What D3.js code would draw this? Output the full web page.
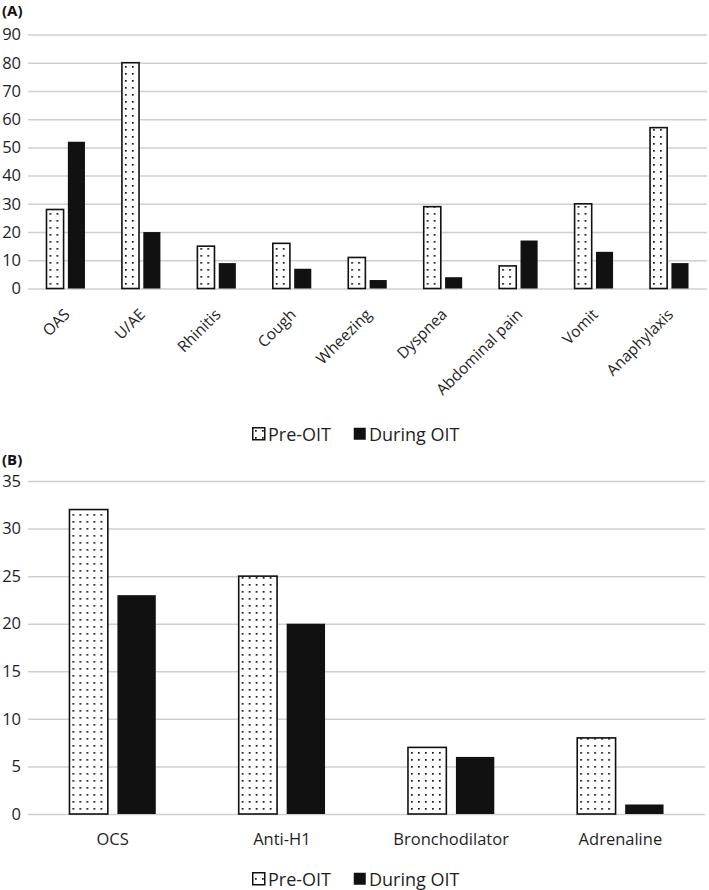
<!DOCTYPE html>
<html>
<head>
<meta charset="utf-8">
<script src="https://cdnjs.cloudflare.com/ajax/libs/d3/7.8.5/d3.min.js"></script>
<style>
  body { margin: 0; background: #fff; }
  svg { display: block; font-family: "Open Sans", sans-serif; }
</style>
</head>
<body>
<div id="container"></div>
<script>
// panel A: symptoms
var catsA = ['OAS', 'U/AE', 'Rhinitis', 'Cough', 'Wheezing', 'Dyspnea', 'Abdominal pain', 'Vomit', 'Anaphylaxis'];
var preA = [28, 80, 15, 16, 11, 29, 8, 30, 57];
var durA = [52, 20, 9, 7, 3, 4, 17, 13, 9];
var ticksA = [0, 10, 20, 30, 40, 50, 60, 70, 80, 90];

// panel B: treatments
var catsB = ['OCS', 'Anti-H1', 'Bronchodilator', 'Adrenaline'];
var preB = [32, 25, 7, 8];
var durB = [23, 20, 6, 1];
var ticksB = [0, 5, 10, 15, 20, 25, 30, 35];

var series = ['Pre-OIT', 'During OIT'];

var W = 709, H = 890;
var textColor = '#1e1e1e', gridColor = '#cfcfcf';

var svg = d3.select('#container').append('svg')
    .attr('width', W).attr('height', H);

svg.append('rect').attr('width', W).attr('height', H).attr('fill', '#fff');

var defs = svg.append('defs');
var pat = defs.append('pattern')
    .attr('id', 'dots')
    .attr('patternUnits', 'userSpaceOnUse')
    .attr('width', 7).attr('height', 7);
pat.append('rect').attr('width', 7).attr('height', 7).attr('fill', '#fff');
pat.append('rect').attr('x', 3).attr('y', 3).attr('width', 1.7).attr('height', 1.7).attr('fill', '#111');

function drawPanel(cats, pre, dur, ticks, box, rotate){
    var x = d3.scaleBand().domain(cats).range([box.left, box.right]).padding(0);
    var y = d3.scaleLinear().domain([0, ticks[ticks.length-1]]).range([box.bottom, box.top]);
    var groupW = x.bandwidth()*0.51;
    var x1 = d3.scaleBand().domain(series).range([0, groupW]).paddingInner(0.2);

    var g = svg.append('g');

    // grid + y labels
    var yAxis = g.append('g')
        .attr('transform', 'translate(' + box.left + ',0)')
        .call(d3.axisLeft(y).tickValues(ticks).tickSize(-(box.right - box.left)).tickPadding(7));
    yAxis.select('.domain').remove();
    yAxis.selectAll('line').attr('stroke', gridColor).attr('stroke-width', 1.5);
    yAxis.selectAll('text').attr('fill', textColor).attr('font-size', 16.5).attr('font-family', '"Open Sans", sans-serif');

    // x labels
    var xAxis = g.append('g')
        .attr('transform', 'translate(0,' + box.bottom + ')')
        .call(d3.axisBottom(x).tickSize(0).tickPadding(19.5));
    xAxis.select('.domain').remove();
    xAxis.selectAll('text').attr('fill', textColor).attr('font-family', '"Open Sans", sans-serif');
    if(rotate){
        xAxis.selectAll('text')
            .attr('font-size', 15.5)
            .attr('x', 0).attr('y', 0).attr('dy', 0)
            .attr('text-anchor', 'end')
            .attr('transform', 'translate(5,27) rotate(-45)');
    }else{
        xAxis.selectAll('text').attr('font-size', 16.5);
    }

    var rows = cats.map(function(c, i){ return {cat: c, vals: [pre[i], dur[i]]}; });
    var grp = g.selectAll('.grp').data(rows).enter().append('g')
        .attr('transform', function(d){ return 'translate(' + (x(d.cat) + (x.bandwidth() - groupW)/2) + ',0)'; });

    grp.selectAll('rect').data(function(d){ return d.vals.map(function(v, k){ return {s: series[k], v: v}; }); })
        .enter().append('rect')
        .attr('x', function(d){ return x1(d.s); })
        .attr('y', function(d){ return y(d.v); })
        .attr('width', x1.bandwidth())
        .attr('height', function(d){ return box.bottom - y(d.v); })
        .attr('fill', function(d){ return d.s == 'Pre-OIT' ? 'url(#dots)' : '#111'; })
        .attr('stroke', function(d){ return d.s == 'Pre-OIT' ? '#111' : 'none'; })
        .attr('stroke-width', 1.6);
}

function drawLegend(yc){
    var items = [{s: 'Pre-OIT', x: 252}, {s: 'During OIT', x: 353}];
    items.forEach(function(it){
        svg.append('rect')
            .attr('x', it.x + 0.75).attr('y', yc - 6.25)
            .attr('width', 12).attr('height', 12)
            .attr('fill', it.s == 'Pre-OIT' ? 'url(#dots)' : '#111')
            .attr('stroke', it.s == 'Pre-OIT' ? '#111' : 'none')
            .attr('stroke-width', 1.5);
        svg.append('text')
            .attr('x', it.x + 16).attr('y', yc + 7)
            .attr('font-size', 18)
            .attr('fill', textColor)
            .text(it.s);
    });
}

svg.append('text').attr('x', 2).attr('y', 16).attr('font-size', 15).attr('font-weight', 'bold')
    .attr('fill', '#111').text('(A)');
drawPanel(catsA, preA, durA, ticksA, {left: 28, right: 707, top: 34.5, bottom: 288.5}, true);
drawLegend(434);

svg.append('text').attr('x', 2).attr('y', 465).attr('font-size', 15).attr('font-weight', 'bold')
    .attr('fill', '#111').text('(B)');
drawPanel(catsB, preB, durB, ticksB, {left: 28, right: 705, top: 481, bottom: 814}, false);
drawLegend(879);
</script>
</body>
</html>
